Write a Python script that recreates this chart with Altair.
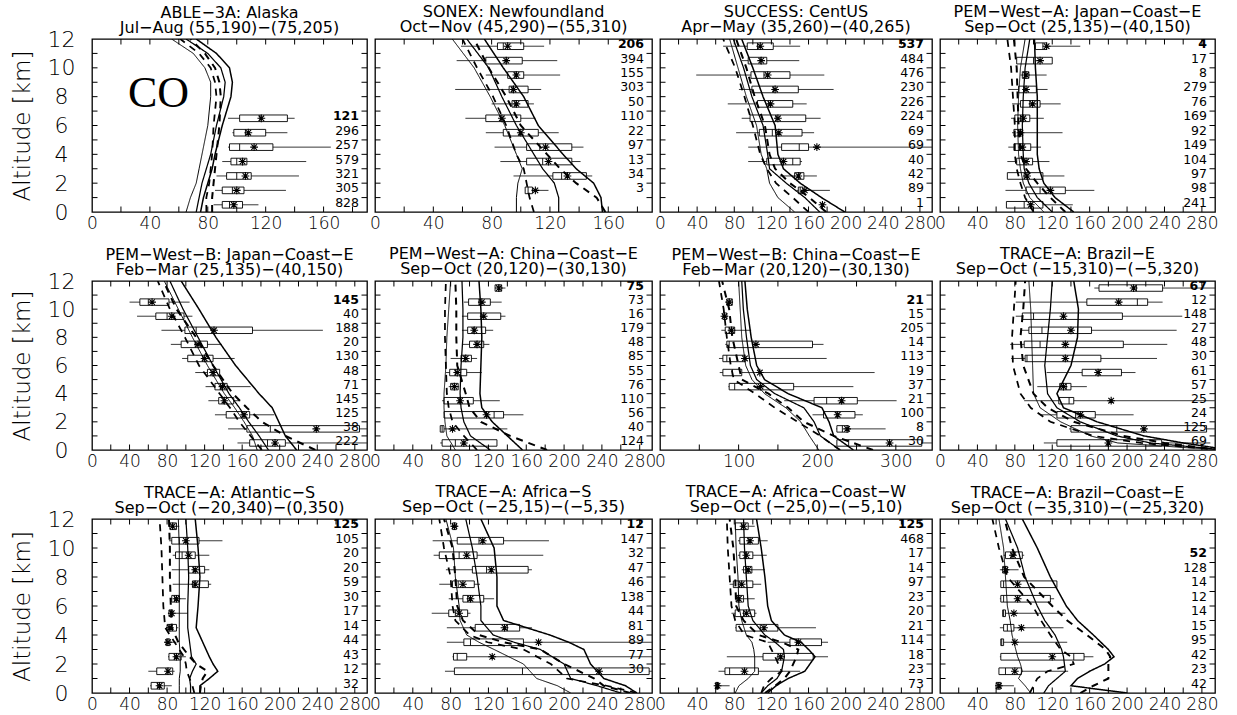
import altair as alt
import pandas as pd
import numpy as np

# ---------------- data ----------------
P1 = dict(t1="ABLE−3A: Alaska", t2="Jul−Aug (55,190)−(75,205)",
          xmax=190, xlab=[0, 40, 80, 120, 160], xstep=20, b0=0.5,
          n=[828, 305, 321, 579, 257, 296, 121],
          wl=[84, 85, 86, 90, 94, 97, 94],
          q1=[90, 90, 93, 96, 95, 98, 102],
          med=[95, 97, 100, 100, 102, 106, 116],
          q3=[104, 105, 110, 107, 125, 120, 135],
          wr=[115, 134, 143, 148, 165, 135, 140],
          mean=[98, 100, 106, 104, 112, 108, 117],
          la=[0, 1, 2, 3, 4, 6, 8, 9, 10, 11, 12],
          l1=[65, 68, 72, 74, 76, 80, 82, 82, 78, 70, 55],
          l2=[72, 74, 76, 79, 82, 86, 91, 92, 89, 80, 65],
          l3=[75, 77, 80, 83, 85, 90, 96, 97, 95, 86, 72],
          d1=[79, 79, 81, 82, 83, 84, 86, 85, 82, 74, 61],
          d2=[83, 83, 84, 85, 86, 88, 89, 88, 85, 78, 68])

P2 = dict(t1="SONEX: Newfoundland", t2="Oct−Nov (45,290)−(55,310)",
          xmax=190, xlab=[0, 40, 80, 120, 160], xstep=20, b0=1.5,
          n=[3, 34, 13, 97, 22, 110, 50, 303, 155, 394, 206],
          wl=[103, 95, 86, 82, 76, 62, 80, 55, 76, 56, 59],
          q1=[103, 122, 104, 104, 88, 76, 94, 92, 91, 76, 84],
          med=[105, 128, 115, 113, 99, 86, 96, 94, 96, 90, 88],
          q3=[108, 145, 135, 135, 112, 100, 105, 105, 102, 101, 102],
          wr=[119, 149, 141, 143, 126, 110, 109, 114, 127, 125, 116],
          mean=[110, 132, 119, 117, 100, 87, 97, 95, 97, 90, 91],
          la=[0, 1, 2, 3, 4, 6, 8, 10, 12],
          l1=[97, 97, 98, 101, 97, 89, 79, 68, 53],
          l2=[126, 126, 123, 115, 109, 97, 87, 78, 63],
          l3=[156, 155, 150, 138, 129, 112, 102, 88, 75],
          d1=[109, 106, 104, 102, 97, 90, 81, 70, 60],
          d2=[158, 152, 138, 127, 118, 100, 90, 78, 68])

P3 = dict(t1="SUCCESS: CentUS", t2="Apr−May (35,260)−(40,265)",
          xmax=293, xlab=[0, 40, 80, 120, 160, 200, 240, 280], xstep=20, b0=0.5,
          n=[1, 89, 42, 40, 69, 69, 224, 226, 230, 476, 484, 537],
          wl=[None, 147, 129, 95, 95, 82, 88, 73, 85, 39, 88, 68],
          q1=[None, 149, 145, 115, 131, 107, 97, 105, 99, 98, 95, 94],
          med=[None, 151, 150, 143, 150, 121, 125, 117, 122, 112, 108, 105],
          q3=[None, 154, 155, 151, 160, 153, 157, 143, 149, 140, 115, 122],
          wr=[None, 183, 169, 153, 293, 166, 173, 158, 187, 177, 150, 151],
          mean=[175, 156, 149, 133, 169, 128, 127, 119, 124, 116, 109, 108],
          la=[0, 1, 2, 3, 4, 6, 8, 10, 12],
          l1=[145, 127, 118, 115, 109, 104, 93, 84, 75],
          l2=[172, 156, 136, 118, 116, 111, 99, 90, 79],
          l3=[199, 174, 151, 133, 127, 124, 111, 100, 88],
          d1=[160, 143, 125, 115, 108, 100, 91, 81, 68],
          d2=[179, 161, 140, 124, 118, 113, 102, 93, 82])

P4 = dict(t1="PEM−West−A: Japan−Coast−E", t2="Sep−Oct (25,135)−(40,150)",
          xmax=294, xlab=[0, 40, 80, 120, 160, 200, 240, 280], xstep=20, b0=0.5,
          n=[241, 98, 97, 104, 149, 92, 169, 76, 279, 8, 17, 4],
          wl=[71, 70, 72, 72, 73, 77, 76, 77, 73, 86, 82, 102],
          q1=[71, 92, 72, 82, 79, 79, 80, 86, 84, 88, 82, 102],
          med=[90, 107, 90, 90, 86, 84, 86, 96, 90, 91, 100, 110],
          q3=[110, 134, 110, 99, 97, 88, 96, 107, 103, 95, 120, 114],
          wr=[142, 165, 133, 117, 108, 131, 111, 129, 115, 114, 120, 150],
          mean=[97, 118, 93, 92, 88, 86, 89, 99, 92, 92, 107, 114],
          la=[0, 1, 2, 3, 4, 6, 8, 10, 12],
          l1=[111, 96, 89, 86, 84, 83, 84, 86, 91],
          l2=[120, 104, 95, 90, 89, 88, 89, 91, 96],
          l3=[143, 123, 111, 106, 104, 104, 104, 102, 101],
          d1=[100, 91, 86, 82, 80, 80, 78, 76, 72],
          d2=[134, 118, 104, 92, 86, 84, 83, 82, 79])

P5 = dict(t1="PEM−West−B: Japan−Coast−E", t2="Feb−Mar (25,135)−(40,150)",
          xmax=293, xlab=[0, 40, 80, 120, 160, 200, 240, 280], xstep=20, b0=0.5,
          n=[222, 38, 125, 145, 71, 48, 130, 20, 188, 40, 145],
          wl=[155, 145, 131, 124, 121, 110, 96, 84, 74, 48, 40],
          q1=[168, 165, 143, 135, 131, 123, 102, 95, 99, 68, 51],
          med=[187, 190, 160, 140, 137, 130, 118, 110, 111, 80, 60],
          q3=[206, 285, 168, 151, 144, 136, 129, 123, 171, 98, 82],
          wr=[293, 293, 194, 158, 169, 136, 152, 138, 246, 107, 104],
          mean=[195, 239, 162, 141, 139, 129, 120, 113, 130, 85, 64],
          la=[0, 1, 2, 3, 4, 6, 8, 10, 12],
          l1=[176, 171, 162, 152, 141, 123, 107, 92, 77],
          l2=[188, 178, 167, 157, 146, 129, 113, 97, 83],
          l3=[218, 206, 199, 192, 178, 153, 132, 114, 95],
          d1=[181, 169, 157, 147, 136, 114, 99, 83, 70],
          d2=[238, 206, 181, 165, 150, 129, 111, 90, 76])

P6 = dict(t1="PEM−West−A: China−Coast−E", t2="Sep−Oct (20,120)−(30,130)",
          xmax=293, xlab=[0, 40, 80, 120, 160, 200, 240, 280], xstep=20, b0=0.5,
          n=[124, 40, 56, 110, 76, 55, 85, 48, 179, 16, 73, 75],
          wl=[69, 69, 73, 71, 78, 75, 80, 92, 92, 92, 94, 127],
          q1=[71, 69, 73, 73, 80, 79, 91, 100, 98, 98, 99, 127],
          med=[85, 71, 126, 89, 84, 85, 95, 107, 104, 112, 110, 131],
          q3=[129, 73, 136, 104, 88, 97, 102, 115, 117, 133, 122, 134],
          wr=[129, 140, 157, 132, 89, 113, 108, 121, 125, 138, 134, 138],
          mean=[94, 82, 118, 90, 84, 87, 96, 108, 105, 115, 113, 131],
          la=[0, 1, 2, 3, 4, 6, 8, 10, 12],
          l1=[85, 76, 74, 73, 73, 75, 76, 78, 80],
          l2=[122, 101, 94, 91, 90, 91, 93, 93, 92],
          l3=[156, 140, 124, 113, 111, 112, 113, 112, 110],
          d1=[108, 94, 82, 78, 76, 75, 74, 74, 75],
          d2=[182, 143, 112, 100, 96, 87, 86, 86, 85])

P7 = dict(t1="PEM−West−B: China−Coast−E", t2="Feb−Mar (20,120)−(30,130)",
          xmax=346, xlab=[0, 100, 200, 300], xstep=50, b0=0.5,
          n=[30, 8, 100, 21, 37, 19, 113, 14, 205, 15, 21],
          wl=[225, 224, 194, 158, 87, 76, 75, 83, 78, 80, 85],
          q1=[225, 225, 208, 196, 88, 80, 80, 85, 83, 80, 85],
          med=[240, 232, 225, 212, 95, 92, 85, 88, 88, 82, 88],
          q3=[333, 240, 248, 251, 170, 104, 108, 194, 95, 85, 92],
          wr=[346, 287, 258, 301, 246, 273, 212, 208, 116, 85, 92],
          mean=[292, 238, 226, 231, 128, 127, 108, 122, 91, 82, 88],
          la=[0, 1, 2, 3, 4, 5, 6, 8, 10, 12],
          l1=[202, 190, 179, 160, 133, 117, 109, 104, 102, 100],
          l2=[229, 204, 196, 183, 146, 123, 115, 110, 106, 104],
          l3=[246, 221, 215, 206, 163, 133, 123, 116, 111, 108],
          d1=[229, 204, 175, 146, 121, 94, 90, 85, 81, 75],
          d2=[271, 221, 183, 163, 138, 104, 100, 92, 88, 79])

P8 = dict(t1="TRACE−A: Brazil−E", t2="Sep−Oct (−15,310)−(−5,320)",
          xmax=294, xlab=[0, 40, 80, 120, 160, 200, 240, 280], xstep=20, b0=0.5,
          n=[69, 125, 24, 25, 57, 61, 30, 48, 27, 148, 12, 67],
          wl=[111, 138, 107, 90, 104, 114, 76, 75, 86, 81, 81, 165],
          q1=[125, 140, 125, 127, 128, 152, 91, 90, 95, 88, 157, 170],
          med=[179, 189, 145, 138, 135, 170, 93, 107, 109, 100, 211, 210],
          q3=[237, 285, 166, 143, 140, 194, 172, 196, 162, 195, 222, 238],
          wr=[289, 294, 207, 294, 157, 209, 232, 243, 253, 259, 238, 294],
          mean=[180, 218, 150, 183, 132, 169, 134, 134, 140, 132, 191, 207],
          la=[0, 0.5, 1, 2, 3, 4, 6, 8, 10, 12],
          l1=[300, 190, 161, 129, 107, 100, 99, 98, 97, 95],
          l2=[305, 225, 189, 150, 125, 115, 112, 115, 118, 120],
          l3=[310, 260, 218, 168, 132, 125, 140, 147, 148, 143],
          d1=[300, 215, 164, 118, 97, 86, 78, 77, 79, 81],
          d2=[300, 240, 196, 143, 115, 100, 89, 86, 89, 91])

P9 = dict(t1="TRACE−A: Atlantic−S", t2="Sep−Oct (−20,340)−(0,350)",
          xmax=293, xlab=[0, 40, 80, 120, 160, 200, 240, 280], xstep=20, b0=0.5,
          n=[32, 12, 43, 44, 14, 17, 30, 59, 20, 20, 105, 125],
          wl=[62, 60, 81, 77, 79, 81, 83, 86, 85, 86, 82, 82],
          q1=[63, 69, 82, 79, 80, 82, 85, 107, 103, 89, 85, 83],
          med=[70, 80, 88, 80, 82, 84, 88, 109, 108, 96, 93, 86],
          q3=[77, 86, 95, 83, 90, 86, 93, 124, 120, 110, 114, 90],
          wr=[85, 88, 100, 90, 92, 102, 100, 127, 125, 125, 139, 93],
          mean=[72, 81, 90, 81, 83, 85, 90, 110, 110, 103, 100, 86],
          la=[0, 0.5, 1, 1.5, 2, 2.5, 3.5, 4.5, 6, 8, 10, 12],
          l1=[93, 93, 93, 94, 94, 94, 93, 93, 93, 93, 93, 92],
          l2=[105, 105, 104, 107, 111, 106, 104, 102, 102, 103, 102, 100],
          l3=[115, 115, 125, 134, 129, 125, 118, 111, 113, 115, 113, 110],
          d1=[109, 107, 104, 101, 100, 98, 88, 78, 76, 75, 74, 72],
          d2=[115, 116, 118, 123, 111, 104, 92, 85, 84, 83, 83, 82])

P10 = dict(t1="TRACE−A: Africa−S", t2="Sep−Oct (−25,15)−(−5,35)",
           xmax=293, xlab=[0, 40, 80, 120, 160, 200, 240, 280], xstep=20, b0=1.5,
           n=[30, 77, 89, 81, 44, 138, 46, 47, 32, 147, 12],
           wl=[74, 82, 76, 76, 60, 78, 68, 75, 62, 61, 80],
           q1=[84, 83, 94, 106, 78, 93, 82, 103, 68, 87, 82],
           med=[156, 87, 101, 140, 85, 98, 88, 118, 89, 110, 84],
           q3=[290, 97, 157, 153, 98, 115, 105, 162, 108, 136, 86],
           wr=[294, 294, 294, 166, 101, 126, 111, 166, 178, 184, 88],
           mean=[237, 124, 173, 137, 89, 101, 93, 123, 97, 114, 84],
           la=[0, 0.5, 1, 2, 3, 3.5, 4, 5, 6, 8, 10, 12],
           l1=[207, 193, 171, 157, 126, 110, 97, 90, 89, 85, 83, 75],
           l2=[260, 235, 207, 200, 175, 147, 125, 112, 112, 108, 103, 96],
           l3=[277, 265, 242, 228, 221, 205, 185, 136, 129, 129, 126, 112],
           d1=[277, 245, 203, 186, 157, 119, 100, 85, 82, 80, 73, 68],
           d2=[270, 242, 232, 200, 175, 136, 110, 93, 87, 85, 82, 73])

P11 = dict(t1="TRACE−A: Africa−Coast−W", t2="Sep−Oct (−25,0)−(−5,10)",
           xmax=293, xlab=[0, 40, 80, 120, 160, 200, 240, 280], xstep=20, b0=0.5,
           n=[73, 23, 18, 114, 21, 20, 23, 97, 14, 17, 468, 125],
           wl=[60, 63, 72, 116, 81, 77, 81, 75, 88, 84, 84, 81],
           q1=[60, 70, 111, 140, 82, 81, 82, 79, 90, 86, 86, 81],
           med=[61, 75, 127, 147, 108, 90, 84, 85, 93, 92, 95, 88],
           q3=[63, 106, 165, 174, 127, 102, 90, 100, 99, 100, 106, 95],
           wr=[75, 151, 181, 181, 168, 104, 102, 109, 113, 115, 116, 102],
           mean=[62, 91, 130, 149, 112, 93, 85, 88, 95, 93, 97, 90],
           la=[0, 0.5, 1, 1.5, 2.5, 3, 3.5, 4, 5, 6, 8, 10, 12],
           l1=[81, 85, 95, 102, 102, 101, 99, 93, 88, 85, 84, 82, 81],
           l2=[109, 116, 126, 131, 134, 133, 124, 113, 100, 95, 93, 91, 90],
           l3=[116, 125, 138, 156, 167, 160, 152, 134, 120, 116, 113, 109, 104],
           d1=[109, 112, 120, 131, 124, 120, 116, 91, 81, 77, 75, 73, 72],
           d2=[113, 124, 134, 140, 147, 149, 131, 106, 90, 82, 81, 79, 75])

P12 = dict(t1="TRACE−A: Brazil−Coast−E", t2="Sep−Oct (−35,310)−(−25,320)",
           xmax=294, xlab=[0, 40, 80, 120, 160, 200, 240, 280], xstep=20, b0=0.5,
           n=[42, 23, 42, 95, 15, 14, 12, 14, 128, 52],
           wl=[60, 63, 64, 65, 64, 67, 64, 65, 64, 68],
           q1=[60, 63, 65, 65, 68, 67, 65, 65, 67, 70],
           med=[62, 70, 143, 66, 72, 68, 68, 68, 69, 76],
           q3=[65, 87, 154, 68, 79, 70, 118, 125, 72, 88],
           wr=[79, 137, 164, 136, 132, 134, 122, 125, 84, 90],
           mean=[63, 80, 120, 80, 87, 79, 83, 83, 70, 78],
           la=[0, 0.5, 1, 1.5, 2, 2.5, 3, 4, 5, 6, 8, 10, 12],
           l1=[97, 91, 84, 88, 86, 83, 81, 77, 75, 72, 70, 68, 63],
           l2=[111, 116, 125, 134, 133, 132, 130, 123, 112, 104, 91, 83, 70],
           l3=[200, 140, 147, 160, 176, 186, 180, 164, 147, 135, 118, 104, 88],
           d1=[96, 100, 104, 115, 143, 140, 129, 118, 108, 99, 72, 63, 56],
           d2=[150, 164, 180, 180, 180, 182, 177, 157, 136, 120, 90, 77, 69])

PANELS = [P1, P2, P3, P4, P5, P6, P7, P8, P9, P10, P11, P12]
SPECIES = "CO"

# ---------------- styling ----------------
W = [275, 277, 272, 275]
H = [173, 169, 174]
TFONT = "DejaVu Sans"
LFONT = "DejaVu Sans"
ASTER = "M-1,0L1,0M0,-1L0,1M-0.72,-0.72L0.72,0.72M-0.72,0.72L0.72,-0.72"
SERIES = ["l1", "l2", "l3", "d1", "d2"]
HALF = 0.23


def panel(P, w, h, first):
    xmax = P["xmax"]
    xs = alt.Scale(domain=[0, xmax], nice=False, zero=False)
    ys = alt.Scale(domain=[0, 12], nice=False, zero=False)
    xa = alt.Axis(values=P["xlab"], ticks=False, tickSize=0, domain=False, grid=False,
                  labelFont=LFONT, labelFontSize=17, labelFontWeight=200, labelColor="black",
                  labelPadding=3, labelFlush=False, labelOverlap=False,
                  title=None, format="d")
    if first:
        ya = alt.Axis(values=list(range(0, 13, 2)), ticks=False, tickSize=0, domain=False,
                      grid=False, labelFont=LFONT, labelFontSize=22, labelFontWeight=200,
                      labelColor="black",
                      labelAlign="center", labelPadding=31, labelFlush=False,
                      labelOverlap=False, format="d",
                      title="Altitude [km]", titleFont=LFONT, titleFontSize=23,
                      titleFontWeight=200, titleColor="black", titlePadding=13)
    else:
        ya = None

    def X(f):
        return alt.X(f, scale=xs, axis=xa)

    def Y(f):
        return alt.Y(f, scale=ys, axis=ya)

    n = len(P["n"])
    bd = pd.DataFrame({
        "alt": [P["b0"] + i for i in range(n)],
        "wl": P["wl"], "q1": P["q1"], "med": P["med"], "q3": P["q3"],
        "wr": P["wr"], "mean": P["mean"],
        "n": [str(v) for v in P["n"]],
        "xr": [xmax] * n,
        "top": [i == n - 1 for i in range(n)],
    })
    bd["lo"] = bd["alt"] - HALF
    bd["hi"] = bd["alt"] + HALF

    whisk = alt.Chart(bd).mark_rule(color="#222222", strokeWidth=0.9, clip=True).encode(
        x=X("wl:Q"), x2="wr:Q", y=Y("alt:Q"))
    box = alt.Chart(bd).mark_rect(fill="white", stroke="black", strokeWidth=0.9, clip=True).encode(
        x=X("q1:Q"), x2="q3:Q", y=Y("lo:Q"), y2="hi:Q")
    medr = alt.Chart(bd).mark_rule(color="black", strokeWidth=0.9, clip=True).encode(
        x=X("med:Q"), y=Y("lo:Q"), y2="hi:Q")
    mean = alt.Chart(bd).mark_point(shape=ASTER, size=60, filled=False, color="black",
                                    strokeWidth=1.1, opacity=1).encode(
        x=X("mean:Q"), y=Y("alt:Q"))

    ld = pd.concat([pd.DataFrame({"alt": P["la"], "v": P[k], "s": k}) for k in SERIES],
                   ignore_index=True)
    lines = alt.Chart(ld).mark_line(clip=True, color="black").encode(
        x=X("v:Q"), y=Y("alt:Q"), order="alt:Q", detail="s:N",
        strokeWidth=alt.StrokeWidth("s:N", scale=alt.Scale(domain=SERIES,
                                                           range=[1, 2, 1, 0.9, 0.9]),
                                    legend=None),
        strokeDash=alt.StrokeDash("s:N", scale=alt.Scale(
            domain=SERIES, range=[[1, 0], [1, 0], [1, 0], [7, 6], [7, 6]]), legend=None))

    cnt = alt.Chart(bd[~bd["top"]]).mark_text(
        align="right", baseline="middle", dx=-8, dy=-2, font=LFONT, fontSize=12.5,
        color="black").encode(x=X("xr:Q"), y=Y("alt:Q"), text="n:N")
    cntb = alt.Chart(bd[bd["top"]]).mark_text(
        align="right", baseline="middle", dx=-8, dy=-2, font=LFONT, fontSize=12.5,
        fontWeight="bold", color="black").encode(x=X("xr:Q"), y=Y("alt:Q"), text="n:N")

    tly = 5.5 / h * 12
    tlx = 5.5 / w * xmax
    xt = list(np.arange(P["xstep"], xmax, P["xstep"]))
    xtd = pd.DataFrame({"t": xt + xt, "a": [0] * len(xt) + [12] * len(xt),
                        "b": [tly] * len(xt) + [12 - tly] * len(xt)})
    yt = list(range(1, 12))
    ytd = pd.DataFrame({"t": yt + yt, "a": [0] * len(yt) + [xmax] * len(yt),
                        "b": [tlx] * len(yt) + [xmax - tlx] * len(yt)})
    xticks = alt.Chart(xtd).mark_rule(color="black", strokeWidth=1).encode(
        x=X("t:Q"), y=Y("a:Q"), y2="b:Q")
    yticks = alt.Chart(ytd).mark_rule(color="black", strokeWidth=1).encode(
        y=Y("t:Q"), x=X("a:Q"), x2="b:Q")

    layers = [whisk, box, medr, lines, mean, cnt, cntb, xticks, yticks]
    if P is P1:
        co = pd.DataFrame({"x": [46], "y": [8.2], "s": [SPECIES]})
        layers.append(alt.Chart(co).mark_text(font="Liberation Serif", fontSize=44,
                                              color="black", baseline="middle").encode(
            x=X("x:Q"), y=Y("y:Q"), text="s:N"))

    return alt.layer(*layers).properties(
        width=w, height=h,
        title=alt.TitleParams([P["t1"], P["t2"]], font=TFONT, fontSize=16,
                              fontWeight="normal", color="black",
                              offset=(-8 if first else 3),
                              lineHeight=15, anchor="middle"))


charts = [panel(P, W[i % 4], H[i // 4], i % 4 == 0) for i, P in enumerate(PANELS)]
chart = alt.concat(*charts, columns=4, spacing={"row": 69, "column": 8}, bounds="flush")
chart = chart.properties(padding={"left": 10, "top": 3, "right": 2, "bottom": 2},
                         background="white").configure_view(stroke="black", strokeWidth=1.3)

chart.save("out.html", embed_options={"renderer": "svg", "actions": False})
